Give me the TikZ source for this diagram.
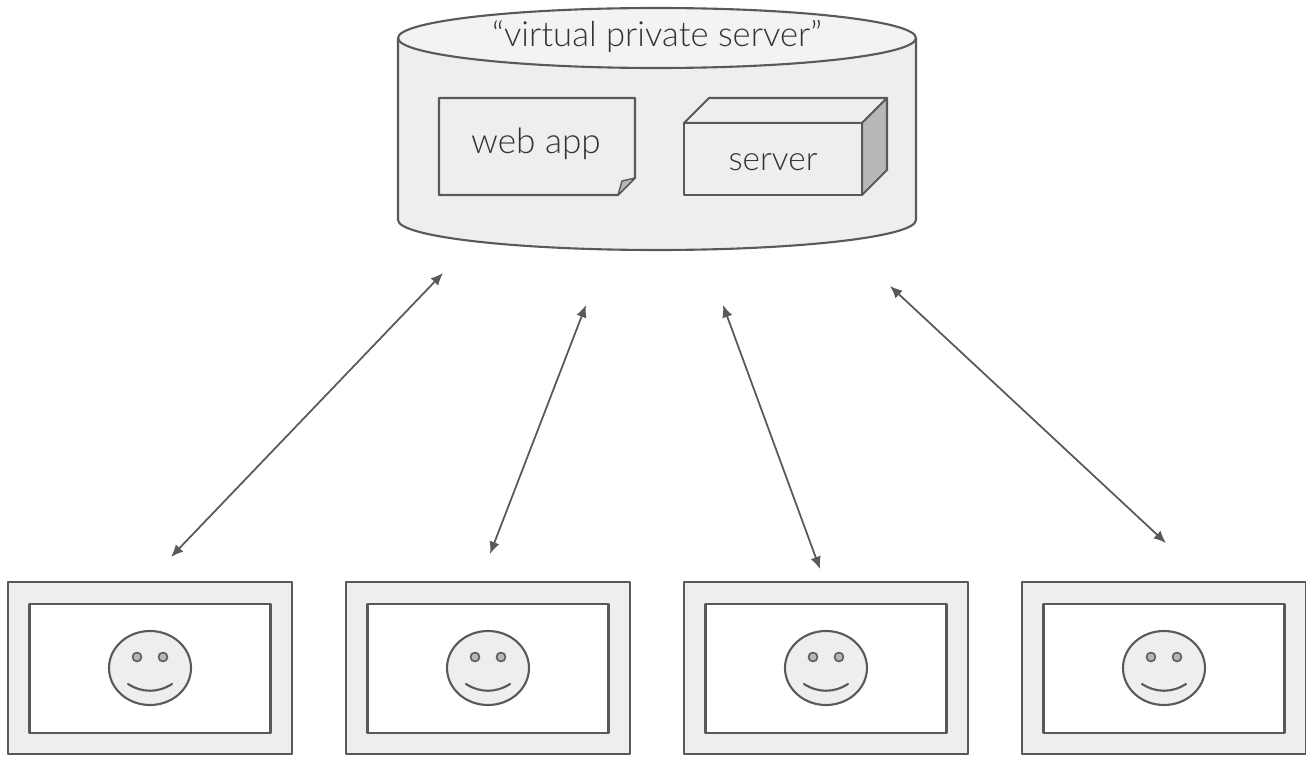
\documentclass[tikz,border=0pt]{standalone}
\usepackage{fontspec}
\setmainfont{Lato}[UprightFont=* Light]
\usepackage{tikz}
\usetikzlibrary{shapes.geometric,arrows.meta}
\definecolor{lightfill}{HTML}{EEEEEE}
\definecolor{topfill}{HTML}{F3F3F3}
\definecolor{darkfill}{HTML}{B7B7B7}
\definecolor{edgeline}{HTML}{595959}
\definecolor{ink}{HTML}{333333}
\tikzstyle{outlined} = [draw=edgeline, line width=1.2pt, fill=lightfill, line join=round]
\tikzstyle{screenbox} = [outlined, rectangle, minimum width=241*0.02cm, minimum height=129*0.02cm, inner sep=0pt, fill=white]
\tikzstyle{monitorbox} = [outlined, rectangle, minimum width=284*0.02cm, minimum height=172*0.02cm, inner sep=0pt]
\tikzstyle{facebox} = [outlined, ellipse, minimum width=82*0.02cm, minimum height=74*0.02cm, inner sep=0pt]
\tikzstyle{eyebox} = [outlined, circle, fill=darkfill, line width=0.9pt, minimum size=9*0.02cm, inner sep=0pt]
\tikzstyle{textbox} = [text=ink, inner sep=0pt, font=\fontsize{19.7pt}{24pt}\selectfont]
\tikzstyle{line} = [draw=edgeline, line width=1pt, {Latex[length=7pt,width=6pt]}-{Latex[length=7pt,width=6pt]}]
\begin{document}
\begin{tikzpicture}[x=0.02cm, y=-0.02cm]
\useasboundingbox (0,0) rectangle (1306,757);
% Server cylinder
\draw [outlined] (398,38) -- (398,220) arc [start angle=180, end angle=360, x radius=259, y radius=-30] -- (916,38);
\draw [outlined, fill=topfill] (657,38) ellipse [x radius=259, y radius=30];
\node [textbox] (vps) at (657,36) {“virtual private server”};
% Web app page
\draw [outlined] (439,98) -- (635,98) -- (635,178) -- (618,195) -- (439,195) -- cycle;
\draw [outlined, fill=darkfill, line width=0.8pt] (635,178) -- (622,181) -- (618,195) -- cycle;
\node [textbox, font=\fontsize{20pt}{24pt}\selectfont] (webapp) at (536,144) {web app};
% Server box
\draw [outlined] (684,123) -- (709,98) -- (887,98) -- (862,123) -- cycle;
\draw [outlined, fill=darkfill] (862,123) -- (887,98) -- (887,170) -- (862,195) -- cycle;
\draw [outlined] (684,123) rectangle (862,195);
\node [textbox, font=\fontsize{19pt}{22pt}\selectfont] (server) at (773,162) {server};
% Monitors
\foreach \name/\x in {a/150, b/488, c/826, d/1164} {
  \node [monitorbox] (monitor\name) at (\x,668) {};
  \node [screenbox] (screen\name) at (\x,668.5) {};
  \node [facebox] (face\name) at (\x,668) {};
  \node [eyebox] (lefteye\name) at (\x-13,657) {};
  \node [eyebox] (righteye\name) at (\x+13,657) {};
  \coordinate (smilestart\name) at (\x-22,684);
  \coordinate (smileend\name) at (\x+22,684);
  \draw [draw=edgeline, line width=1.2pt, line cap=round] (smilestart\name) .. controls (\x-8,693) and (\x+8,693) .. (smileend\name);
}
% Arrow ends
\coordinate (upa) at (443,273);
\coordinate (upb) at (586,305);
\coordinate (upc) at (723,305);
\coordinate (upd) at (890,286);
\coordinate (downa) at (171,557);
\coordinate (downb) at (490,554);
\coordinate (downc) at (820,569);
\coordinate (downd) at (1166,543);
% Draw edges
\path [line] (upa) -- (downa);
\path [line] (upb) -- (downb);
\path [line] (upc) -- (downc);
\path [line] (upd) -- (downd);
\end{tikzpicture}
\end{document}
